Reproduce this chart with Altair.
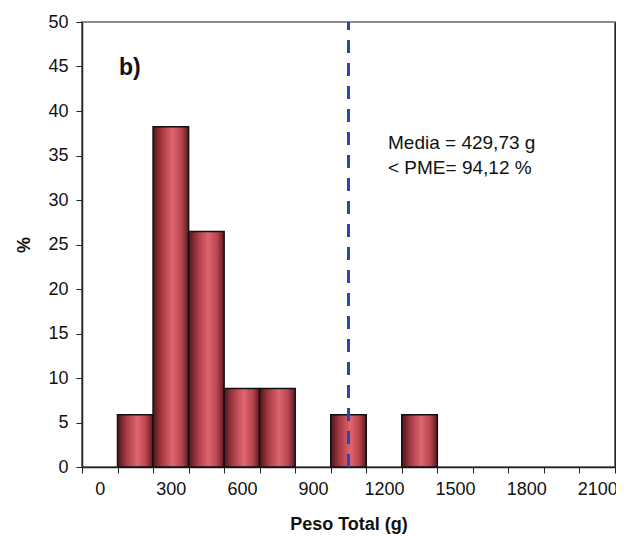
import altair as alt
import pandas as pd

categories = [str(v) for v in range(0, 2101, 150)]
bar_cats = ["150", "300", "450", "600", "750", "1050", "1350"]
bar_pct = [5.88, 38.24, 26.47, 8.82, 8.82, 5.88, 5.88]
pme_cat = ["1050"]
y_ticks = list(range(0, 51, 5))
annot_lines = ["Media = 429,73 g", "< PME= 94,12 %"]
panel_label = ["b)"]

bars_df = pd.DataFrame({"cat": bar_cats, "pct": bar_pct})
pme_df = pd.DataFrame({"cat": pme_cat, "lo": [0], "hi": [50]})

W, H = 533, 445
FONT = "Liberation Sans"

x_enc = alt.X(
    "cat:N",
    sort=categories,
    scale=alt.Scale(domain=categories, paddingInner=0, paddingOuter=0),
    axis=alt.Axis(
        title="Peso Total (g)",
        titleFontWeight="bold",
        titleFontSize=18,
        titlePadding=17,
        labelExpr="toNumber(datum.value) % 300 == 0 ? datum.value : ''",
        labelAngle=0,
        labelFontSize=18,
        labelPadding=7,
        tickBand="extent",
        tickSize=6,
        labelFlush=False,
        labelOverlap=False,
    ),
)

y_scale = alt.Scale(domain=[0, 50], nice=False)

grad = alt.Gradient(
    gradient="linear",
    x1=0, x2=1, y1=0, y2=0,
    stops=[
        alt.GradientStop(color="#4e161b", offset=0),
        alt.GradientStop(color="#a83a44", offset=0.25),
        alt.GradientStop(color="#df6670", offset=0.55),
        alt.GradientStop(color="#b9454f", offset=0.8),
        alt.GradientStop(color="#5a1a20", offset=1),
    ],
)

bars = alt.Chart(bars_df).mark_bar(color=grad, stroke="#111111", strokeWidth=1.5).encode(
    x=x_enc,
    y=alt.Y(
        "pct:Q",
        scale=y_scale,
        axis=alt.Axis(
            title="%",
            titleFontSize=18,
            titleFontWeight="bold",
            titleAngle=-90,
            titlePadding=14,
            values=y_ticks,
            labelFontSize=18,
            labelPadding=8,
            tickSize=6,
            grid=False,
        ),
    ),
)

pme = alt.Chart(pme_df).mark_rule(
    color="#2b44b8", strokeWidth=3, strokeDash=[13, 10]
).encode(
    x=alt.X("cat:N", sort=categories),
    y=alt.Y("lo:Q", scale=y_scale),
    y2="hi:Q",
)

annot_df = pd.DataFrame({"t": annot_lines, "i": [0, 1]})
annot = alt.Chart(annot_df).mark_text(
    align="left", baseline="middle", fontSize=19, font=FONT, color="#111111"
).encode(
    x=alt.value(306),
    y=alt.Y("i:O", axis=None, scale=alt.Scale(type="point", range=[121, 146], padding=0)),
    text="t:N",
)

label_df = pd.DataFrame({"t": panel_label})
label = alt.Chart(label_df).mark_text(
    align="left", baseline="middle", fontSize=23, fontWeight="bold", font=FONT, color="#111111"
).encode(
    x=alt.value(37),
    y=alt.value(46),
    text="t:N",
)

chart = (
    alt.layer(bars, pme, annot, label)
    .resolve_scale(y="independent")
    .properties(
        width=W,
        height=H,
        autosize=alt.AutoSizeParams(type="none"),
        padding={"left": 74, "top": 14, "right": 1, "bottom": 70},
    )
    .configure(font=FONT)
    .configure_view(stroke="#8c8c8c", strokeWidth=2)
    .configure_axis(
        domainColor="#222222",
        domainWidth=1.5,
        tickColor="#222222",
        labelColor="#111111",
        titleColor="#111111",
        labelFont=FONT,
        titleFont=FONT,
    )
)

chart.save("out.html", embed_options={"renderer": "svg", "actions": False})
